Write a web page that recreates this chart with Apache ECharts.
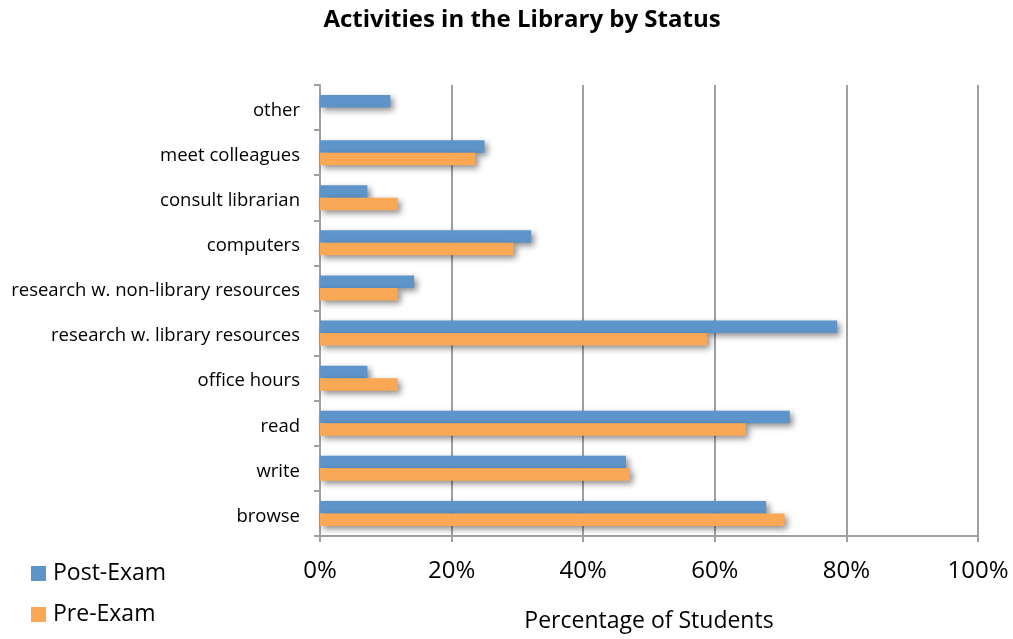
<!DOCTYPE html>
<html>
<head>
<meta charset="utf-8">
<script src="https://cdn.jsdelivr.net/npm/echarts@6/dist/echarts.min.js"></script>
<style>
  html, body { margin: 0; padding: 0; background: #fff; }
  #chart { width: 1013px; height: 639px; }
</style>
</head>
<body>
<div id="chart"></div>
<script>
// categories listed bottom to top
var categories = ['browse', 'write', 'read', 'office hours', 'research w. library resources',
    'research w. non-library resources', 'computers', 'consult librarian', 'meet colleagues', 'other'];
var postExam = [67.8, 46.5, 71.4, 7.2, 78.6, 14.3, 32.1, 7.2, 25.0, 10.7];
var preExam = [70.6, 47.1, 64.7, 11.8, 58.8, 11.8, 29.4, 11.8, 23.6, 0];
var xTicks = [0, 20, 40, 60, 80, 100];

var font = 'Open Sans';
var shadow = {
    shadowBlur: 6,
    shadowOffsetX: 3,
    shadowOffsetY: 3,
    shadowColor: 'rgba(0,0,0,0.45)'
};

var chart = echarts.init(document.getElementById('chart'));
var option = {
    backgroundColor: '#fff',
    animation: false,
    title: {
        text: 'Activities in the Library by Status',
        left: 517,
        textAlign: 'center',
        top: 3,
        textStyle: { fontFamily: font, fontSize: 24, fontWeight: 'bold', color: '#000' }
    },
    legend: {
        orient: 'vertical',
        left: 26,
        top: 557,
        itemWidth: 15,
        itemHeight: 15,
        itemGap: 18,
        icon: 'rect',
        data: ['Post-Exam', 'Pre-Exam'],
        textStyle: { fontFamily: font, fontSize: 23, color: '#000', padding: [0, 0, 0, 2] }
    },
    grid: { left: 320, right: 35, top: 85, bottom: 103 },
    xAxis: {
        type: 'value',
        min: xTicks[0],
        max: xTicks[xTicks.length - 1],
        interval: 20,
        name: 'Percentage of Students',
        nameLocation: 'middle',
        nameGap: 74,
        nameTextStyle: { fontFamily: font, fontSize: 23, color: '#000' },
        axisLine: { show: true, lineStyle: { color: '#a0a0a0', width: 2 } },
        axisTick: { show: true, length: 6, lineStyle: { color: '#a0a0a0', width: 2 } },
        axisLabel: {
            margin: 23,
            fontFamily: font, fontSize: 24, color: '#000',
            formatter: function (v) { return v + '%'; }
        },
        splitLine: { show: true, lineStyle: { color: '#a0a0a0', width: 2 } }
    },
    yAxis: {
        type: 'category',
        data: categories,
        axisLine: { show: true, lineStyle: { color: '#a0a0a0', width: 2 } },
        axisTick: { show: true, length: 6, lineStyle: { color: '#a0a0a0', width: 2 } },
        axisLabel: {
            margin: 20, color: '#000',
            formatter: function (v) { return '{c|' + v + '}'; },
            rich: {
                c: { fontFamily: font, fontSize: 18.5, color: '#000', padding: [6, 0, 0, 0] }
            }
        }
    },
    series: [
        {
            name: 'Post-Exam',
            type: 'bar',
            data: postExam,
            barWidth: 12.5,
            barGap: '0%',
            barCategoryGap: '44%',
            itemStyle: Object.assign({ color: '#5d94c9' }, shadow)
        },
        {
            name: 'Pre-Exam',
            type: 'bar',
            data: preExam,
            barWidth: 12.5,
            barGap: '0%',
            itemStyle: Object.assign({ color: '#fba856' }, shadow)
        }
    ]
};
chart.setOption(option);
</script>
</body>
</html>
